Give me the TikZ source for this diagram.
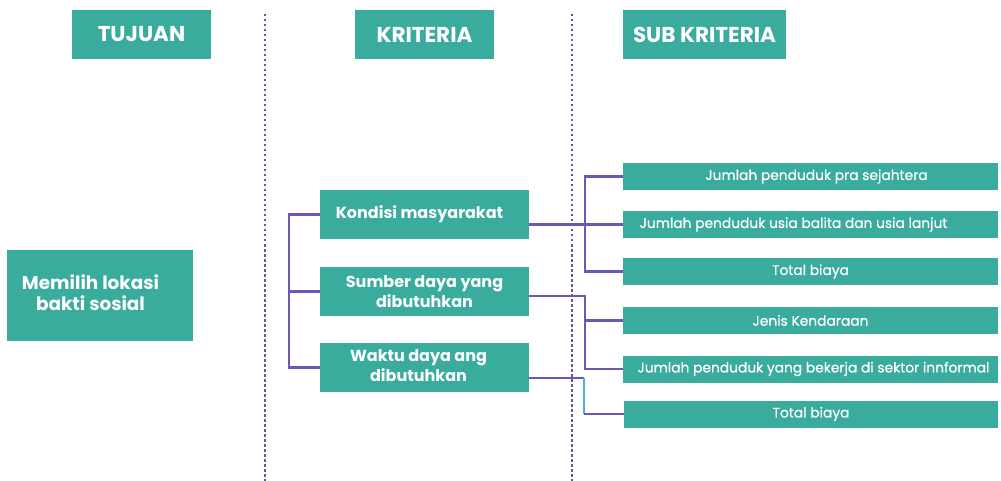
\documentclass[tikz,border=0pt]{standalone}
\usepackage{fontspec}
\setmainfont{Poppins}
\newfontfamily\subfont{Poppins}[FakeBold=0.6]
\definecolor{teal1}{RGB}{58,172,158}
\definecolor{lin}{RGB}{112,84,184}
\definecolor{lblue}{RGB}{80,170,230}
\definecolor{dotc}{RGB}{110,80,170}
\begin{document}
\begin{tikzpicture}[x=1pt,y=-1pt,
  box/.style={fill=teal1,text=white,inner sep=0pt,align=center},
  head/.style={box,font=\bfseries\fontsize{21.5}{24}\selectfont},
  crit/.style={box,font=\bfseries\fontsize{16}{20}\selectfont},
  goalf/.style={box,font=\bfseries\fontsize{18.4}{21}\selectfont},
  sub/.style={box,font=\subfont\fontsize{13.8}{15}\selectfont},
  conn/.style={draw=lin,line width=2.2pt},
  sep/.style={draw=dotc,line width=2.4pt,dash pattern=on 2.5pt off 2.5pt}]
\useasboundingbox (0,0) rectangle (1001,481);
% separators
\coordinate (d1a) at (265,14); \coordinate (d1b) at (265,481);
\coordinate (d2a) at (572,14); \coordinate (d2b) at (572,481);
\draw[sep] (d1a) -- (d1b);
\draw[sep] (d2a) -- (d2b);
% headers
\node[head,minimum width=139pt,minimum height=49pt] (tuj) at (141.5,34.5) {TUJUAN};
\node[head,minimum width=139pt,minimum height=49pt] (kri) at (424.5,34.5) {KRITERIA};
\node[head,minimum width=163pt,minimum height=49pt] (skr) at (704.5,34.5) {SUB KRITERIA};
% goal
\node[goalf,minimum width=186pt,minimum height=91pt] (goal) at (100,295.5) {\raisebox{-2pt}{\begin{tabular}{@{}c@{}}Memilih lokasi\\bakti sosial\end{tabular}}\hspace*{19pt}};
% criteria
\node[crit,minimum width=209pt,minimum height=49pt] (kon) at (424.5,214.5) {Kondisi masyarakat\hspace*{10pt}};
\node[crit,minimum width=209pt,minimum height=49pt] (sum) at (424.5,291.5) {Sumber daya yang\\dibutuhkan};
\node[crit,minimum width=209pt,minimum height=49pt] (wak) at (424.5,367.5) {\begin{tabular}{@{}c@{}}Waktu daya ang\\dibutuhkan\end{tabular}\hspace*{12pt}};
% sub criteria
\node[sub,minimum width=375pt,minimum height=27pt] (s1) at (810.5,176.5) {\hspace*{12pt}Jumlah penduduk pra sejahtera};
\node[sub,minimum width=375pt,minimum height=27pt] (s2) at (810.5,224.5) {Jumlah penduduk usia balita dan usia lanjut\hspace*{34pt}};
\node[sub,minimum width=375pt,minimum height=27pt] (s3) at (810.5,271.5) {Total biaya};
\node[sub,minimum width=375pt,minimum height=27pt] (s4) at (810.5,320.5) {Jenis Kendaraan};
\node[sub,minimum width=375pt,minimum height=27pt] (s5) at (810.5,369) {\hspace*{6pt}Jumlah penduduk yang bekerja di sektor innformal};
\node[sub,minimum width=374pt,minimum height=27pt] (s6) at (811,414) {Total biaya};
% left bracket
\draw[conn] (kon.west) -- ++(-31,0) |- (wak.west);
\draw[conn] (sum.west) -- ++(-31,0);
% kondisi
\draw[conn] ([yshift=-10pt]kon.east) -- (s2.west);
\draw[conn] (s1.west) -- ++(-38,0) |- (s3.west);
% sumber
\draw[conn] ([yshift=-4.5pt]sum.east) -| ([xshift=-38pt]s5.west) -- (s5.west);
\draw[conn] (s4.west) -- ++(-38,0);
% waktu
\coordinate (w1) at (584,378);
\coordinate (w2) at (584,414);
\draw[conn] ([yshift=-10.5pt]wak.east) -- (w1);
\draw[draw=lblue,line width=2pt] (w1) -- (w2);
\draw[conn] (w2) -- (s6.west);
\end{tikzpicture}
\end{document}
